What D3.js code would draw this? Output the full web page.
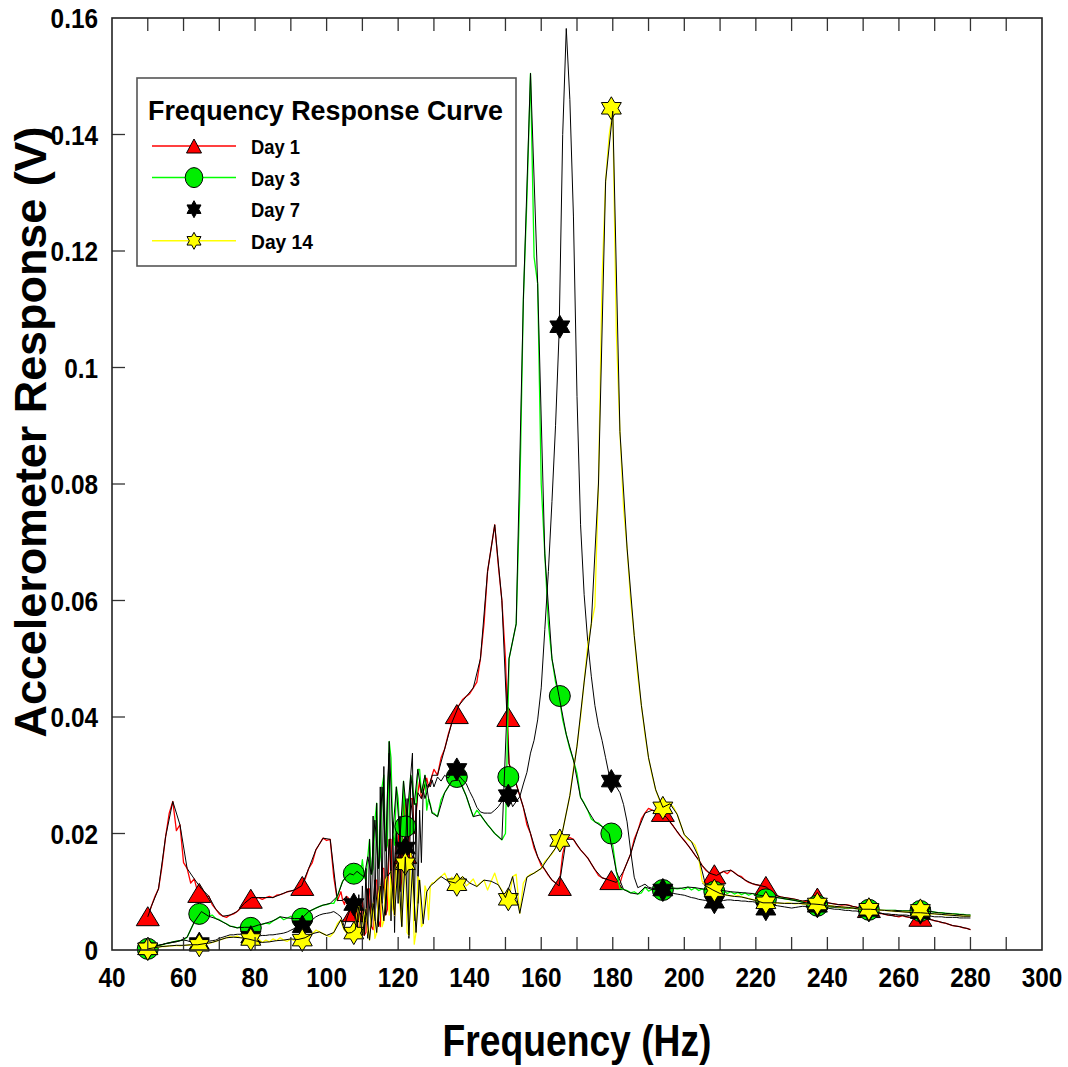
<!DOCTYPE html>
<html>
<head>
<meta charset="utf-8">
<script src="https://cdn.jsdelivr.net/npm/d3@7"></script>
<style>
  body { margin: 0; background: #fff; }
  svg { display: block; }
  text { font-family: "Liberation Sans", Arial, Helvetica, sans-serif; font-weight: bold; fill: #000; }
</style>
</head>
<body>
<svg id="chart" width="1068" height="1067"></svg>
<script>
// Swept-sine frequency response: 1 Hz steps, 0.5 Hz steps through the 104-130 Hz band
const freqHz = [...d3.range(50, 104), ...d3.range(104, 130, 0.5), ...d3.range(130, 281)];

const day1 = [
  0.0057, 0.0075, 0.0092, 0.0105, 0.0145, 0.0195, 0.0235, 0.0255, 0.0205, 0.0215,
  0.0150, 0.0140, 0.0115, 0.0122, 0.0098, 0.0105, 0.0090, 0.0093, 0.0078, 0.0070,
  0.0062, 0.0058, 0.0056, 0.0060, 0.0062, 0.0066, 0.0072, 0.0080, 0.0086, 0.0090,
  0.0088, 0.0090, 0.0087, 0.0090, 0.0092, 0.0090, 0.0094, 0.0095, 0.0097, 0.0100,
  0.0101, 0.0103, 0.0107, 0.0110, 0.0122, 0.0140, 0.0150, 0.0172, 0.0182, 0.0192,
  0.0188, 0.0190, 0.0125, 0.0085,
  // 104 - 129.5 Hz
  0.0100, 0.0085, 0.0078, 0.0092, 0.0090, 0.0070, 0.0062, 0.0066, 0.0065, 0.0040,
  0.0030, 0.0085, 0.0085, 0.0025, 0.0030, 0.0105, 0.0105, 0.0040, 0.0035, 0.0120,
  0.0120, 0.0050, 0.0040, 0.0140, 0.0140, 0.0060, 0.0070, 0.0190, 0.0190, 0.0080,
  0.0060, 0.0220, 0.0220, 0.0100, 0.0120, 0.0270, 0.0250, 0.0150, 0.0180, 0.0260,
  0.0260, 0.0200, 0.0230, 0.0270, 0.0290, 0.0260, 0.0270, 0.0285, 0.0295, 0.0280,
  0.0285, 0.0300,
  // 130 Hz onward
  0.0310, 0.0300, 0.0330, 0.0345, 0.0370, 0.0390, 0.0405, 0.0420, 0.0430, 0.0435,
  0.0440, 0.0450, 0.0460, 0.0500, 0.0560, 0.0650, 0.0690, 0.0730, 0.0660, 0.0600,
  0.0500, 0.0320, 0.0300, 0.0285, 0.0265, 0.0245, 0.0215, 0.0200, 0.0175, 0.0160,
  0.0145, 0.0138, 0.0128, 0.0120, 0.0115, 0.0110, 0.0165, 0.0190, 0.0193, 0.0190,
  0.0180, 0.0172, 0.0165, 0.0158, 0.0148, 0.0138, 0.0128, 0.0124, 0.0122, 0.0120,
  0.0118, 0.0116, 0.0114, 0.0135, 0.0150, 0.0165, 0.0190, 0.0205, 0.0225, 0.0235,
  0.0243, 0.0240, 0.0238, 0.0237, 0.0235, 0.0228, 0.0220, 0.0212, 0.0203, 0.0195,
  0.0188, 0.0180, 0.0172, 0.0163, 0.0155, 0.0145, 0.0137, 0.0132, 0.0130, 0.0128,
  0.0132, 0.0135, 0.0131, 0.0137, 0.0133, 0.0128, 0.0126, 0.0120, 0.0116, 0.0114,
  0.0112, 0.0111, 0.0110, 0.0108, 0.0100, 0.0095, 0.0093, 0.0091, 0.0090, 0.0089,
  0.0088, 0.0087, 0.0085, 0.0084, 0.0083, 0.0086, 0.0088, 0.0090, 0.0086, 0.0083,
  0.0081, 0.0080, 0.0079, 0.0078, 0.0077, 0.0078, 0.0077, 0.0075, 0.0074, 0.0072,
  0.0070, 0.0069, 0.0072, 0.0066, 0.0062, 0.0063, 0.0061, 0.0060, 0.0060, 0.0058,
  0.0057, 0.0059, 0.0057, 0.0056, 0.0055, 0.0056, 0.0055, 0.0054, 0.0053, 0.0052,
  0.0050, 0.0049, 0.0047, 0.0046, 0.0044, 0.0042, 0.0041, 0.0040, 0.0038, 0.0037,
  0.0035
];

const day3 = [
  0.0003, 0.0005, 0.0006, 0.0008, 0.0009, 0.0011, 0.0012, 0.0014, 0.0015, 0.0016,
  0.0017, 0.0022, 0.0035, 0.0048, 0.0058, 0.0066, 0.0063, 0.0058, 0.0060, 0.0054,
  0.0052, 0.0048, 0.0045, 0.0041, 0.0040, 0.0038, 0.0040, 0.0039, 0.0038, 0.0039,
  0.0041, 0.0043, 0.0044, 0.0046, 0.0045, 0.0050, 0.0053, 0.0057, 0.0052, 0.0055,
  0.0058, 0.0054, 0.0056, 0.0054, 0.0060, 0.0066, 0.0069, 0.0072, 0.0075, 0.0077,
  0.0078, 0.0080, 0.0080, 0.0092,
  // 104 - 129.5 Hz
  0.0110, 0.0118, 0.0122, 0.0126, 0.0128, 0.0131, 0.0132, 0.0129, 0.0125, 0.0135,
  0.0140, 0.0130, 0.0155, 0.0125, 0.0120, 0.0160, 0.0190, 0.0130, 0.0140, 0.0223,
  0.0252, 0.0140, 0.0160, 0.0280, 0.0300, 0.0170, 0.0180, 0.0358, 0.0330, 0.0200,
  0.0180, 0.0280, 0.0260, 0.0190, 0.0180, 0.0290, 0.0215, 0.0230, 0.0230, 0.0300,
  0.0290, 0.0250, 0.0250, 0.0310, 0.0310, 0.0270, 0.0280, 0.0300, 0.0240, 0.0260,
  0.0250, 0.0235,
  // 130 Hz onward
  0.0235, 0.0229, 0.0258, 0.0270, 0.0280, 0.0290, 0.0297, 0.0292, 0.0280, 0.0265,
  0.0246, 0.0229, 0.0240, 0.0232, 0.0223, 0.0215, 0.0208, 0.0200, 0.0195, 0.0189,
  0.0200, 0.0500, 0.0530, 0.0560, 0.0780, 0.1116, 0.1290, 0.1505, 0.1190, 0.1144,
  0.0800, 0.0680, 0.0560, 0.0500, 0.0460, 0.0435, 0.0395, 0.0370, 0.0345, 0.0326,
  0.0303, 0.0262, 0.0252, 0.0240, 0.0225, 0.0220, 0.0218, 0.0212, 0.0206, 0.0200,
  0.0180, 0.0135, 0.0106, 0.0104, 0.0102, 0.0098, 0.0100, 0.0096, 0.0098, 0.0108,
  0.0101, 0.0104, 0.0102, 0.0103, 0.0103, 0.0104, 0.0105, 0.0106, 0.0105, 0.0106,
  0.0104, 0.0108, 0.0103, 0.0107, 0.0102, 0.0105, 0.0101, 0.0104, 0.0100, 0.0103,
  0.0099, 0.0102, 0.0097, 0.0100, 0.0096, 0.0099, 0.0095, 0.0098, 0.0094, 0.0097,
  0.0095, 0.0094, 0.0093, 0.0092, 0.0092, 0.0091, 0.0090, 0.0089, 0.0088, 0.0087,
  0.0086, 0.0085, 0.0084, 0.0082, 0.0081, 0.0080, 0.0078, 0.0077, 0.0076, 0.0076,
  0.0075, 0.0074, 0.0074, 0.0073, 0.0073, 0.0072, 0.0072, 0.0072, 0.0071, 0.0071,
  0.0070, 0.0070, 0.0069, 0.0069, 0.0069, 0.0068, 0.0068, 0.0068, 0.0068, 0.0068,
  0.0067, 0.0067, 0.0067, 0.0067, 0.0067, 0.0067, 0.0067, 0.0066, 0.0066, 0.0066,
  0.0065, 0.0064, 0.0064, 0.0063, 0.0063, 0.0062, 0.0062, 0.0061, 0.0061, 0.0060,
  0.0060
];

const day7 = [
  0.0002, 0.0004, 0.0006, 0.0008, 0.0009, 0.0011, 0.0012, 0.0013, 0.0014, 0.0016,
  0.0017, 0.0016, 0.0014, 0.0012, 0.0011, 0.0012, 0.0014, 0.0015, 0.0016, 0.0017,
  0.0020, 0.0022, 0.0024, 0.0026, 0.0026, 0.0027, 0.0027, 0.0025, 0.0023, 0.0023,
  0.0024, 0.0024, 0.0025, 0.0025, 0.0026, 0.0026, 0.0027, 0.0028, 0.0029, 0.0031,
  0.0034, 0.0037, 0.0039, 0.0040, 0.0043, 0.0046, 0.0052, 0.0057, 0.0060, 0.0062,
  0.0063, 0.0064, 0.0066, 0.0062,
  // 104 - 129.5 Hz
  0.0057, 0.0048, 0.0040, 0.0052, 0.0060, 0.0068, 0.0075, 0.0079, 0.0060, 0.0025,
  0.0095, 0.0020, 0.0110, 0.0030, 0.0140, 0.0020, 0.0190, 0.0040, 0.0230, 0.0050,
  0.0252, 0.0040, 0.0280, 0.0080, 0.0315, 0.0060, 0.0270, 0.0338, 0.0050, 0.0220,
  0.0030, 0.0200, 0.0080, 0.0230, 0.0040, 0.0175, 0.0150, 0.0260, 0.0020, 0.0300,
  0.0338, 0.0050, 0.0252, 0.0080, 0.0240, 0.0150, 0.0275, 0.0260, 0.0270, 0.0285,
  0.0280, 0.0292,
  // 130 Hz onward
  0.0280, 0.0297, 0.0290, 0.0300, 0.0295, 0.0305, 0.0310, 0.0300, 0.0292, 0.0286,
  0.0272, 0.0260, 0.0245, 0.0237, 0.0235, 0.0235, 0.0235, 0.0240, 0.0246, 0.0255,
  0.0262, 0.0265, 0.0246, 0.0255, 0.0263, 0.0285, 0.0305, 0.0338, 0.0360, 0.0395,
  0.0450, 0.0550, 0.0650, 0.0770, 0.0900, 0.1060, 0.1400, 0.1582, 0.1460, 0.1260,
  0.0950, 0.0730, 0.0610, 0.0530, 0.0470, 0.0420, 0.0385, 0.0360, 0.0330, 0.0300,
  0.0288, 0.0280, 0.0270, 0.0250, 0.0220, 0.0170, 0.0125, 0.0107, 0.0110, 0.0113,
  0.0108, 0.0106, 0.0105, 0.0104, 0.0103, 0.0101, 0.0098, 0.0097, 0.0096, 0.0095,
  0.0094, 0.0092, 0.0090, 0.0089, 0.0087, 0.0086, 0.0085, 0.0083, 0.0082, 0.0082,
  0.0084, 0.0085, 0.0086, 0.0086, 0.0085, 0.0085, 0.0084, 0.0084, 0.0083, 0.0083,
  0.0082, 0.0080, 0.0074, 0.0070, 0.0074, 0.0077, 0.0076, 0.0075, 0.0074, 0.0073,
  0.0072, 0.0073, 0.0074, 0.0075, 0.0075, 0.0074, 0.0074, 0.0073, 0.0073, 0.0072,
  0.0072, 0.0071, 0.0070, 0.0070, 0.0069, 0.0068, 0.0068, 0.0067, 0.0067, 0.0066,
  0.0066, 0.0066, 0.0066, 0.0065, 0.0064, 0.0063, 0.0062, 0.0062, 0.0061, 0.0061,
  0.0060, 0.0060, 0.0060, 0.0059, 0.0059, 0.0059, 0.0059, 0.0058, 0.0058, 0.0058,
  0.0057, 0.0057, 0.0057, 0.0056, 0.0056, 0.0056, 0.0056, 0.0055, 0.0055, 0.0055,
  0.0055
];

const day14 = [
  0.0002, 0.0003, 0.0004, 0.0005, 0.0006, 0.0006, 0.0007, 0.0007, 0.0008, 0.0007,
  0.0008, 0.0008, 0.0009, 0.0008, 0.0009, 0.0010, 0.0011, 0.0011, 0.0013, 0.0015,
  0.0017, 0.0019, 0.0021, 0.0023, 0.0022, 0.0024, 0.0021, 0.0023, 0.0019, 0.0018,
  0.0016, 0.0019, 0.0013, 0.0017, 0.0014, 0.0019, 0.0016, 0.0021, 0.0017, 0.0015,
  0.0019, 0.0016, 0.0018, 0.0017, 0.0021, 0.0026, 0.0028, 0.0034, 0.0031, 0.0028,
  0.0025, 0.0023, 0.0030, 0.0045,
  // 104 - 129.5 Hz
  0.0052, 0.0040, 0.0034, 0.0030, 0.0029, 0.0031, 0.0030, 0.0029, 0.0035, 0.0060,
  0.0074, 0.0030, 0.0025, 0.0060, 0.0070, 0.0034, 0.0017, 0.0060, 0.0080, 0.0020,
  0.0030, 0.0095, 0.0110, 0.0040, 0.0050, 0.0120, 0.0126, 0.0060, 0.0135, 0.0070,
  0.0060, 0.0143, 0.0150, 0.0080, 0.0040, 0.0148, 0.0160, 0.0030, 0.0025, 0.0166,
  0.0140, 0.0010, 0.0030, 0.0126, 0.0120, 0.0040, 0.0045, 0.0110, 0.0100, 0.0052,
  0.0110, 0.0115,
  // 130 Hz onward
  0.0115, 0.0122, 0.0126, 0.0132, 0.0118, 0.0125, 0.0115, 0.0120, 0.0126, 0.0110,
  0.0115, 0.0122, 0.0109, 0.0115, 0.0120, 0.0103, 0.0118, 0.0132, 0.0112, 0.0103,
  0.0090, 0.0086, 0.0126, 0.0130, 0.0063, 0.0115, 0.0125, 0.0130, 0.0132, 0.0136,
  0.0140, 0.0152, 0.0158, 0.0165, 0.0175, 0.0188, 0.0205, 0.0235, 0.0265, 0.0310,
  0.0350, 0.0400, 0.0460, 0.0523, 0.0560, 0.0590, 0.0800, 0.1150, 0.1320, 0.1400,
  0.1440, 0.1060, 0.0890, 0.0760, 0.0690, 0.0600, 0.0540, 0.0470, 0.0420, 0.0370,
  0.0330, 0.0300, 0.0275, 0.0258, 0.0245, 0.0248, 0.0251, 0.0245, 0.0233, 0.0215,
  0.0198, 0.0190, 0.0186, 0.0180, 0.0160, 0.0118, 0.0110, 0.0106, 0.0103, 0.0100,
  0.0097, 0.0095, 0.0094, 0.0093, 0.0092, 0.0094, 0.0091, 0.0090, 0.0088, 0.0087,
  0.0085, 0.0083, 0.0081, 0.0080, 0.0081, 0.0080, 0.0081, 0.0080, 0.0080, 0.0081,
  0.0080, 0.0079, 0.0080, 0.0079, 0.0079, 0.0078, 0.0079, 0.0079, 0.0078, 0.0077,
  0.0076, 0.0076, 0.0075, 0.0074, 0.0074, 0.0073, 0.0073, 0.0072, 0.0071, 0.0071,
  0.0070, 0.0070, 0.0070, 0.0069, 0.0069, 0.0068, 0.0068, 0.0067, 0.0067, 0.0066,
  0.0066, 0.0066, 0.0065, 0.0065, 0.0064, 0.0064, 0.0064, 0.0063, 0.0063, 0.0062,
  0.0062, 0.0061, 0.0061, 0.0060, 0.0060, 0.0060, 0.0059, 0.0059, 0.0058, 0.0058,
  0.0058
];

// Symbol positions along the sweep and the readings at those points
const markerHz = [50, 64.4, 78.8, 93.2, 107.6, 122, 136.4, 150.8, 165.2, 179.6, 194, 208.4, 222.8, 237.2, 251.6, 266];
const day1Marks  = [0.0058, 0.0098, 0.0088, 0.0110, 0.0065, 0.0165, 0.0405, 0.0400, 0.0110, 0.0120, 0.0237, 0.0130, 0.0110, 0.0090, 0.0072, 0.0057];
const day3Marks  = [0.0002, 0.0062, 0.0038, 0.0054, 0.0131, 0.0212, 0.0297, 0.0297, 0.0436, 0.0200, 0.0103, 0.0100, 0.0087, 0.0076, 0.0069, 0.0067];
const day7Marks  = [0.0002, 0.0011, 0.0022, 0.0040, 0.0078, 0.0175, 0.0310, 0.0265, 0.1070, 0.0290, 0.0103, 0.0082, 0.0070, 0.0075, 0.0068, 0.0064];
const day14Marks = [0.0002, 0.0008, 0.0018, 0.0017, 0.0029, 0.0148, 0.0112, 0.0087, 0.0188, 0.1445, 0.0244, 0.0102, 0.0081, 0.0079, 0.0070, 0.0068];

const seriesNames = ["Day 1", "Day 3", "Day 7", "Day 14"];
const xTickValues = [40, 60, 80, 100, 120, 140, 160, 180, 200, 220, 240, 260, 280, 300];
const xTickLabels = ["40", "60", "80", "100", "120", "140", "160", "180", "200", "220", "240", "260", "280", "300"];
const yTickValues = [0, 0.02, 0.04, 0.06, 0.08, 0.1, 0.12, 0.14, 0.16];
const yTickLabels = ["0", "0.02", "0.04", "0.06", "0.08", "0.1", "0.12", "0.14", "0.16"];
const chartTitle = "Frequency Response Curve";
const xTitle = "Frequency (Hz)";
const yTitle = "Accelerometer Response (V)";

// ---- layout ----
const svg = d3.select("#chart");
const P = { left: 112, right: 1042, top: 18, bottom: 950 };
const x = d3.scaleLinear().domain([40, 300]).range([P.left, P.right]);
const y = d3.scaleLinear().domain([0, 0.16]).range([P.bottom, P.top]);

// ---- symbol shapes ----
function starPath(ro, sx) {
  const ri = ro * 0.58, pts = [];
  for (let k = 0; k < 12; k++) {
    const a = (-90 + k * 30) * Math.PI / 180, r = k % 2 ? ri : ro;
    pts.push([(sx * r * Math.cos(a)).toFixed(2), (r * Math.sin(a)).toFixed(2)]);
  }
  return "M" + pts.join("L") + "Z";
}
function triPath(w, h) {
  return `M0,${-h / 2}L${w / 2},${h / 2}L${-w / 2},${h / 2}Z`;
}
function ellipsePath(rx, ry) {
  return `M${-rx},0A${rx},${ry} 0 1,0 ${rx},0A${rx},${ry} 0 1,0 ${-rx},0Z`;
}

const series = [
  { name: seriesNames[0], vals: day1,  marks: day1Marks,  line: "#ff0000", fill: "#ff0000", trace: 1,
    sym: triPath(23, 19), legendSym: triPath(15, 14) },
  { name: seriesNames[1], vals: day3,  marks: day3Marks,  line: "#00ff00", fill: "#00ee00", trace: 1,
    sym: ellipsePath(10.5, 10.5), legendSym: ellipsePath(8.8, 10) },
  { name: seriesNames[2], vals: day7,  marks: day7Marks,  line: null,      fill: "#000000", trace: -1,
    sym: starPath(11.5, 1), legendSym: starPath(8.5, 0.95) },
  { name: seriesNames[3], vals: day14, marks: day14Marks, line: "#ffff00", fill: "#ffff00", trace: 0,
    sym: starPath(11.5, 1), legendSym: starPath(8.5, 0.95) }
];

const lineGen = d3.line().x(d => x(d.f)).y(d => y(d.v));

svg.append("rect").attr("x", 0).attr("y", 0).attr("width", 1068).attr("height", 1067).attr("fill", "#fff");

const plot = svg.append("g");

series.forEach(s => {
  const pts = freqHz.map((f, i) => ({ f, v: s.vals[i], i }));
  if (s.line) {
    plot.append("path").datum(pts)
      .attr("d", lineGen).attr("fill", "none")
      .attr("stroke", s.line).attr("stroke-width", 1.3).attr("stroke-linejoin", "round");
  }
  plot.append("g").selectAll("path").data(markerHz.map((f, i) => ({ f, v: s.marks[i] })))
    .join("path")
    .attr("d", s.sym)
    .attr("transform", d => `translate(${x(d.f)},${y(d.v)})`)
    .attr("fill", s.fill).attr("stroke", "#000").attr("stroke-width", 1);
  // thin black trace: every other sample (full resolution for the Day 7 trace)
  const trace = s.trace < 0 ? pts
    : pts.filter(d => d.i % 2 === s.trace || d.i === 0 || d.i === pts.length - 1);
  plot.append("path").datum(trace)
    .attr("d", lineGen).attr("fill", "none")
    .attr("stroke", "#000").attr("stroke-width", 1).attr("stroke-linejoin", "round");
});

// axes frame and inward ticks
const axisG = svg.append("g");
const minorX = d3.range(50, 300, 10);
axisG.selectAll("line.bt").data(minorX).join("line")
  .attr("x1", d => x(d)).attr("x2", d => x(d))
  .attr("y1", P.bottom).attr("y2", P.bottom - 13)
  .attr("stroke", "#333").attr("stroke-width", 1.3);
axisG.selectAll("line.tt").data(minorX).join("line")
  .attr("x1", d => x(d)).attr("x2", d => x(d))
  .attr("y1", P.top).attr("y2", P.top + 13)
  .attr("stroke", "#333").attr("stroke-width", 1.3);
axisG.selectAll("line.lt").data(yTickValues.slice(1, -1)).join("line")
  .attr("x1", P.left).attr("x2", P.left + 13)
  .attr("y1", d => y(d)).attr("y2", d => y(d))
  .attr("stroke", "#333").attr("stroke-width", 1.3);
axisG.append("rect")
  .attr("x", P.left).attr("y", P.top)
  .attr("width", P.right - P.left).attr("height", P.bottom - P.top)
  .attr("fill", "none").attr("stroke", "#222").attr("stroke-width", 1.6);

// tick labels (slightly condensed bold face)
axisG.selectAll("text.xl").data(xTickValues).join("text")
  .attr("transform", d => `translate(${x(d)},987) scale(0.87,1)`)
  .attr("text-anchor", "middle").attr("font-size", 28)
  .text((d, i) => xTickLabels[i]);
axisG.selectAll("text.yl").data(yTickValues).join("text")
  .attr("transform", d => `translate(98,${y(d) + 10}) scale(0.87,1)`)
  .attr("text-anchor", "end").attr("font-size", 28)
  .text((d, i) => yTickLabels[i]);

// axis titles
svg.append("text")
  .attr("x", 577).attr("y", 1056)
  .attr("text-anchor", "middle").attr("font-size", 44)
  .attr("textLength", 269).attr("lengthAdjust", "spacingAndGlyphs")
  .text(xTitle);
svg.append("text")
  .attr("transform", "translate(46,432) rotate(-90)")
  .attr("text-anchor", "middle").attr("font-size", 44)
  .attr("textLength", 611).attr("lengthAdjust", "spacingAndGlyphs")
  .text(yTitle);

// ---- legend ----
const lg = svg.append("g");
lg.append("rect").attr("x", 137).attr("y", 78).attr("width", 379).attr("height", 188)
  .attr("fill", "#fff").attr("stroke", "#555").attr("stroke-width", 1.6);
lg.append("text").attr("x", 148).attr("y", 120).attr("font-size", 28)
  .attr("textLength", 355).attr("lengthAdjust", "spacingAndGlyphs")
  .text(chartTitle);
series.forEach((s, i) => {
  const ry = 146 + i * 31.6;
  if (s.line) {
    lg.append("line").attr("x1", 152).attr("x2", 236).attr("y1", ry).attr("y2", ry)
      .attr("stroke", s.line).attr("stroke-width", 1.5);
  }
  lg.append("path").attr("d", s.legendSym).attr("transform", `translate(194,${ry})`)
    .attr("fill", s.fill).attr("stroke", "#000").attr("stroke-width", 1);
  lg.append("text").attr("x", 251).attr("y", ry + 8).attr("font-size", 20)
    .attr("textLength", s.name.length > 5 ? 62 : 49).attr("lengthAdjust", "spacingAndGlyphs")
    .text(s.name);
});
</script>
</body>
</html>
